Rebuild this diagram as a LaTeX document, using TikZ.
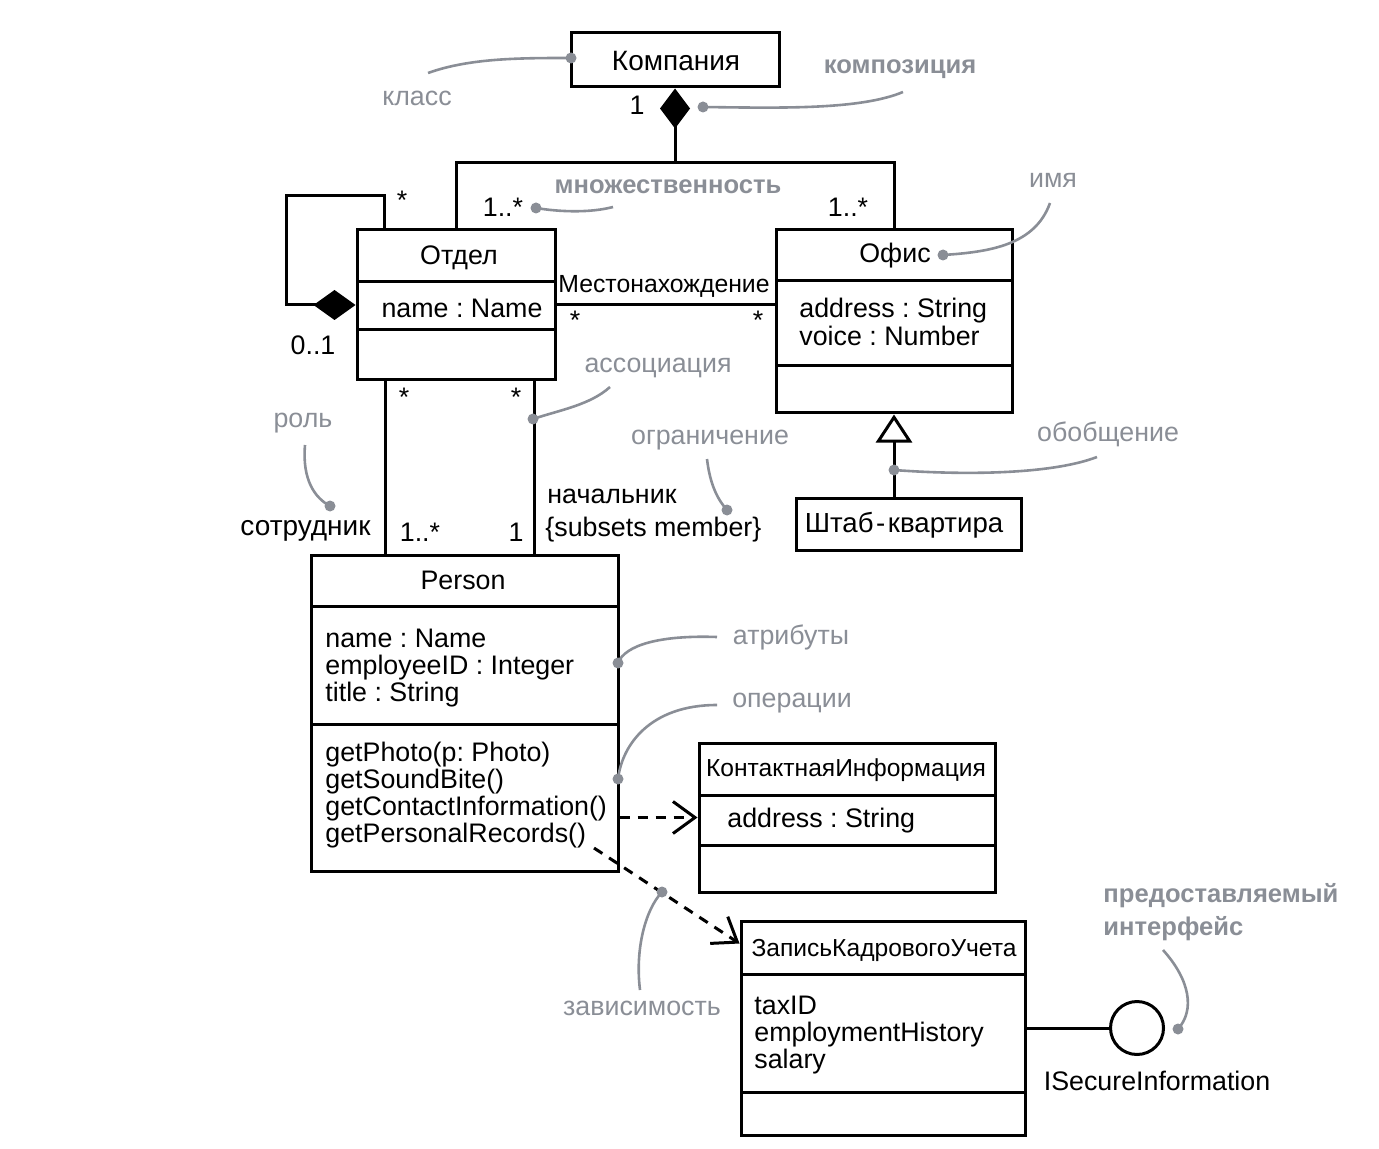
\documentclass[tikz,border=0pt]{standalone}
\usepackage{fontspec}
\setmainfont{Liberation Sans}
\usetikzlibrary{arrows.meta,fit,calc}
\definecolor{anno}{HTML}{8A8E96}
\frenchspacing
\newcommand\mfont{\fontsize{13.4}{13.6}\selectfont}
\newcommand\sfont{\fontsize{12.3}{13}\selectfont}
\newcommand\bfont{\fontsize{12.8}{16.5}\selectfont\bfseries}
\tikzset{
  classbox/.style={draw, line width=1.5pt, inner sep=0pt, fit={#1}},
  txt/.style={inner sep=0pt, font=\mfont, text=black},
  smalltxt/.style={inner sep=0pt, font=\sfont, text=black},
  multi/.style={inner sep=0pt, font=\mfont, align=left, anchor=west},
  annot/.style={inner sep=0pt, font=\mfont, text=anno},
  annotb/.style={inner sep=0pt, font=\bfont, text=anno},
  dotn/.style={circle, fill=anno, inner sep=0pt, minimum size=5.5pt},
  acurve/.style={draw=anno, line width=1.3pt},
  link/.style={line width=1.5pt},
  depline/.style={line width=1.5pt, dash pattern=on 5pt off 4pt, -{Straight Barb[length=11pt,width=16pt,line width=1.5pt]}},
  divider/.style={line width=1.5pt},
}
\begin{document}
\begin{tikzpicture}[x=0.5pt,y=-0.5pt]
\useasboundingbox (0,0) rectangle (1379,1149);

% ---------- classes ----------
\node[classbox={(571,33) (779,87)}] (komp) {};
\node[txt, font=\fontsize{14}{15}\selectfont] (kompT) at (676,61) {Компания};

\node[classbox={(357,230) (555,380)}] (otdel) {};
\draw[divider] (357,282) -- (555,282);
\draw[divider] (357,330) -- (555,330);
\node[txt] (otdelT) at (459,258) {Отдел};
\node[txt] (otdelA) at (462,308) {name : Name};

\node[classbox={(776,230) (1012,413)}] (ofis) {};
\draw[divider] (776,281) -- (1012,281);
\draw[divider] (776,366) -- (1012,366);
\node[txt] (ofisT) at (895,256) {Офис};
\node[multi] (ofisA) at (799,322) {address : String\\voice : Number};

\node[classbox={(796,498) (1021,550)}] (hq) {};
\node[txt, font=\fontsize{13.8}{14}\selectfont] (hqT) at (904,525) {Штаб\kern1.3pt-\kern1.3pt квартира};

\node[classbox={(311,555) (618,871)}] (person) {};
\draw[divider] (311,606) -- (618,606);
\draw[divider] (311,724) -- (618,724);
\node[txt] (personT) at (463,580) {Person};
\node[multi] (personA) at (325,668) {name : Name\\employeeID : Integer\\title : String};
\node[multi] (personO) at (325,795) {getPhoto(p: Photo)\\getSoundBite()\\getContactInformation()\\getPersonalRecords()};

\node[classbox={(699,743) (995,892)}] (kontakt) {};
\draw[divider] (699,795) -- (995,795);
\draw[divider] (699,845) -- (995,845);
\node[smalltxt] (kontaktT) at (846,770) {КонтактнаяИнформация};
\node[multi] (kontaktA) at (727,821) {address : String};

\node[classbox={(741,921) (1025,1135)}] (zapis) {};
\draw[divider] (741,974) -- (1025,974);
\draw[divider] (741,1092) -- (1025,1092);
\node[smalltxt] (zapisT) at (884,950) {ЗаписьКадровогоУчета};
\node[multi] (zapisA) at (754,1035) {taxID\\employmentHistory\\salary};

\node[circle, draw, line width=1.5pt, minimum size=26.5pt, inner sep=0pt] (iface) at (1137,1028) {};
\node[txt] (ifaceT) at (1157,1081) {ISecureInformation};

% ---------- connectors ----------
\coordinate (junc) at (675,163);
\draw[link, {Diamond[length=20pt,width=15pt]}-] (komp.south) -- (junc);
\draw[link] (otdel.north) |- (junc) -| (ofis.north);

\coordinate (loopA) at (286,196);
\coordinate (loopTop) at ([xshift=14.5pt]otdel.north west);
\draw[link, {Diamond[length=21pt,width=15pt]}-] (otdel.west) -| (loopA) -| (loopTop);

\draw[link] (otdel.east) -- (otdel.east -| ofis.west);

\coordinate (emp) at ([xshift=15pt]otdel.south west);
\coordinate (boss) at ([xshift=-11pt]otdel.south east);
\draw[link] (emp) -- (emp |- person.north);
\draw[link] (boss) -- (boss |- person.north);

\draw[link, -{Triangle[open,length=14pt,width=18pt,line width=1.5pt]}] (ofis.south |- hq.north) -- (ofis.south);

\draw[depline] (kontakt.west -| person.east) -- (kontakt.west);
\coordinate (dstart) at (594,848);
\coordinate (dend) at ([yshift=-12pt]zapis.north west);
\draw[depline] (dstart) -- (dend);

\draw[link] (zapis.east |- iface.west) -- (iface.west);

% ---------- black labels ----------
\node[txt] (m1) at (637,105) {1};
\node[txt] (m2) at (503,207) {1..*};
\node[txt] (m3) at (848,207) {1..*};
\node[txt] (m4) at (402,200) {*};
\node[txt] (m5) at (313,345) {0..1};
\node[txt, font=\fontsize{12.4}{13}\selectfont] (assocN) at (664,286) {Местонахождение};
\node[txt] (m6) at (575,320) {*};
\node[txt] (m7) at (758,320) {*};
\node[txt] (m8) at (404,397) {*};
\node[txt] (m9) at (516,397) {*};
\node[txt] (m10) at (420,532) {1..*};
\node[txt] (m11) at (516,532) {1};
\node[txt, anchor=east, font=\fontsize{14}{15}\selectfont] (roleE) at (371,531) {сотрудник};
\node[txt, anchor=west] (roleB) at (547,496) {начальник};
\node[txt, anchor=west] (constr) at (545,530) {\{subsets member\}};

% ---------- annotations ----------
\node[annot] (aKlass) at (417,98) {класс};
\node[dotn] (dKlass) at (571,58) {};
\coordinate (cKlass) at (428,73);
\draw[acurve] (cKlass) .. controls (470,58) and (520,58) .. (dKlass.center);

\node[annotb] (aKomp) at (900,69) {композиция};
\node[dotn] (dKomp) at (703,107) {};
\coordinate (cKomp) at (903,92);
\draw[acurve] (cKomp) .. controls (860,110) and (780,108) .. (dKomp.center);

\node[annotb] (aMn) at (668,187) {множественность};
\node[dotn] (dMn) at (536,208) {};
\coordinate (cMn) at (613,207);
\draw[acurve] (cMn) .. controls (590,213) and (560,212) .. (dMn.center);

\node[annot] (aImya) at (1053,180) {имя};
\node[dotn] (dImya) at (943,255) {};
\coordinate (cImya) at (1050,203);
\draw[acurve] (cImya) .. controls (1035,245) and (990,252) .. (dImya.center);

\node[annot] (aAssoc) at (658,368) {ассоциация};
\node[dotn] (dAssoc) at (533,419) {};
\coordinate (cAssoc) at (610,387);
\draw[acurve] (cAssoc) .. controls (590,405) and (560,410) .. (dAssoc.center);

\node[annot] (aRol) at (303,423) {роль};
\node[dotn] (dRol) at (330,506) {};
\coordinate (cRol) at (305,445);
\draw[acurve] (cRol) .. controls (302,480) and (315,498) .. (dRol.center);

\node[annot] (aOgr) at (710,440) {ограничение};
\node[dotn] (dOgr) at (727,510) {};
\coordinate (cOgr) at (707,459);
\draw[acurve] (cOgr) .. controls (710,485) and (718,500) .. (dOgr.center);

\node[annot] (aObob) at (1108,434) {обобщение};
\node[dotn] (dObob) at (894,470) {};
\coordinate (cObob) at (1097,457);
\draw[acurve] (cObob) .. controls (1050,475) and (960,475) .. (dObob.center);

\node[annot] (aAttr) at (791,637) {атрибуты};
\node[dotn] (dAttr) at (618,663) {};
\coordinate (cAttr) at (717,637);
\draw[acurve] (cAttr) .. controls (660,635) and (625,645) .. (dAttr.center);

\node[annot] (aOper) at (792,703) {операции};
\node[dotn] (dOper) at (618,779) {};
\coordinate (cOper) at (717,705);
\draw[acurve] (cOper) .. controls (650,705) and (622,745) .. (dOper.center);

\node[annot] (aZav) at (642,1008) {зависимость};
\node[dotn] (dZav) at (662,892) {};
\coordinate (cZav) at (640,990);
\draw[acurve] (cZav) .. controls (635,950) and (645,910) .. (dZav.center);

\node[annotb, align=left, anchor=west] (aIface) at (1103,912) {предоставляемый\\интерфейс};
\node[dotn] (dIface) at (1178,1029) {};
\coordinate (cIface) at (1163,950);
\draw[acurve] (cIface) .. controls (1190,980) and (1195,1010) .. (dIface.center);

\end{tikzpicture}
\end{document}
